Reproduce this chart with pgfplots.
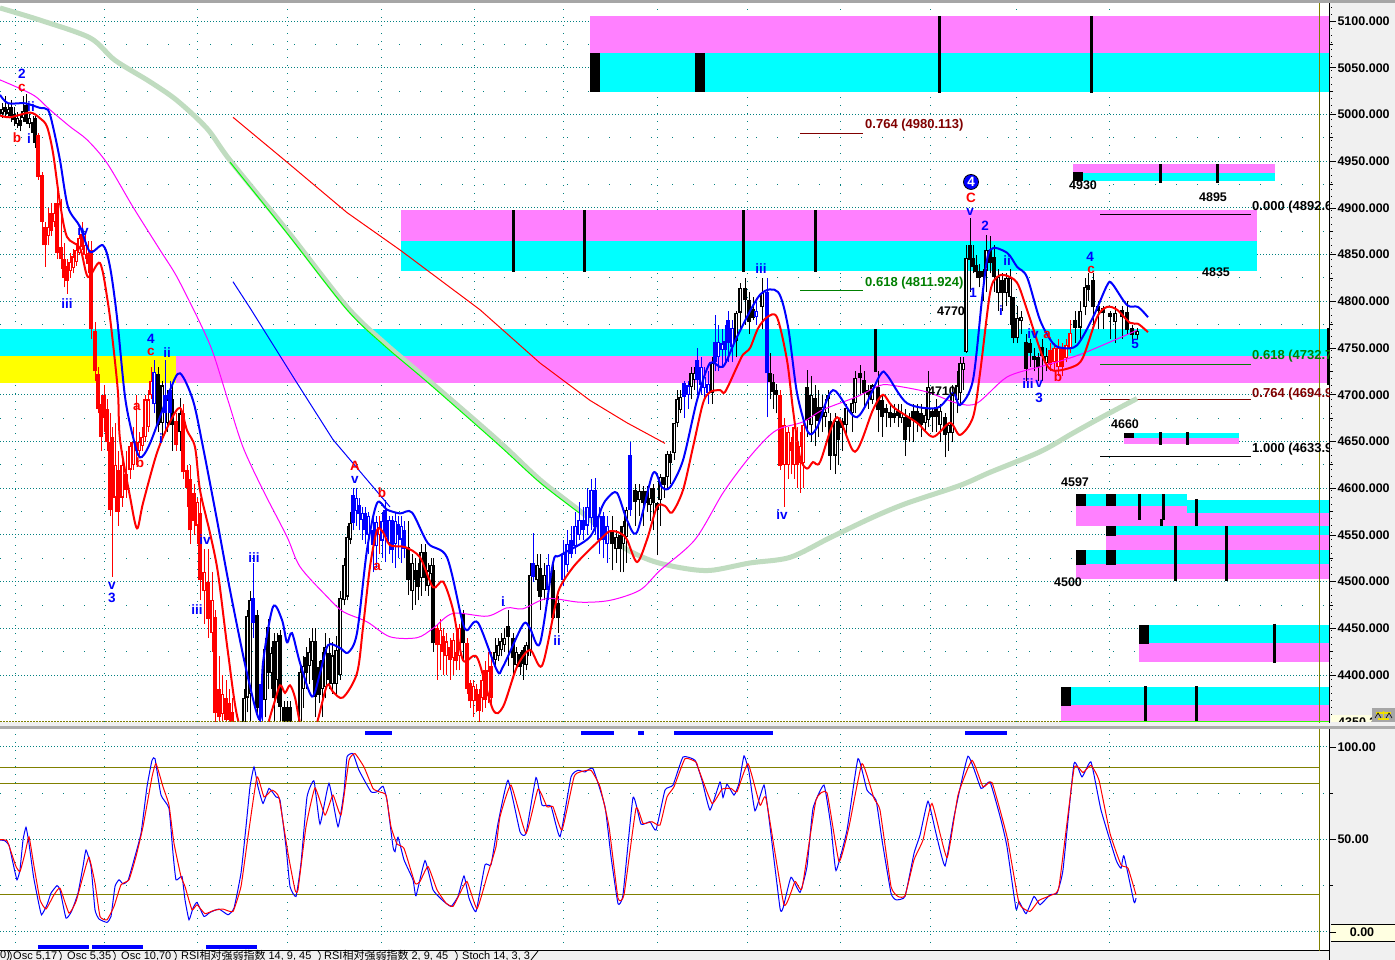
\documentclass[border=0pt]{standalone}
\usepackage{pgfplots}
\usepackage{pgfplotstable}
\usepackage{fontspec}
\pgfplotsset{compat=1.18}
\setmainfont{Liberation Sans}
\newfontfamily\cjk{Noto Sans CJK SC}

\definecolor{bcyan}{HTML}{00FFFF}
\definecolor{bpink}{HTML}{FF80FF}
\definecolor{byell}{HTML}{FFFF00}
\definecolor{tealg}{HTML}{008080}
\definecolor{pale}{HTML}{C0DCC0}
\definecolor{fibr}{HTML}{800000}
\definecolor{fibg}{HTML}{008000}
\definecolor{olivel}{HTML}{808000}
\definecolor{panel}{HTML}{F0F0F0}
\definecolor{boxy}{HTML}{FFFFE1}
\definecolor{mag}{HTML}{FF00FF}
\definecolor{icony}{HTML}{F0E000}

% candles: x low high body-bottom body-top hollow
\pgfplotstableread{
x lo hi bot top f
2 4996 5012 5001 5006 1
5 4998 5020 5003 5008 0
8 4997 5012 5001 5006 1
11 4992 5016 4998 5008 0
14 4988 5008 4994 5000 0
17 4986 5003 4990 4996 1
20 4982 4999 4988 4994 0
23 4992 5020 4996 5004 1
26 4990 5022 4992 5010 0
29 4985 5000 4990 4996 1
33 4975 4998 4980 4992 0
35 4964 4998 4970 4996 0
158 4660 4730 4668 4722 0
162 4655 4715 4670 4710 1
167 4660 4705 4670 4695 1
172 4640 4710 4668 4695 0
180 4640 4697 4660 4680 1
244 4345 4385 4345 4376 1
247 4360 4470 4376 4463 1
250 4345 4490 4380 4480 1
257 4355 4470 4365 4464 0
265 4355 4440 4373 4428 1
268 4385 4460 4402 4451 0
271 4385 4430 4402 4424 1
274 4350 4445 4375 4437 0
277 4370 4445 4395 4437 1
280 4350 4448 4366 4443 0
284 4340 4372 4350 4366 0
287 4340 4372 4350 4366 0
290 4340 4372 4350 4366 0
300 4340 4410 4346 4403 1
303 4365 4420 4385 4410 1
306 4385 4430 4402 4419 0
309 4390 4440 4410 4425 1
312 4395 4450 4415 4437 1
315 4355 4450 4377 4437 0
319 4370 4415 4379 4409 0
322 4355 4425 4385 4416 1
325 4375 4445 4387 4430 1
329 4385 4440 4395 4424 0
332 4380 4435 4390 4421 1
336 4380 4442 4390 4427 1
340 4395 4490 4400 4483 1
344 4475 4525 4480 4518 1
347 4480 4560 4484 4548 1
350 4540 4575 4545 4563 1
408 4486 4565 4502 4537 0
412 4470 4530 4490 4520 1
415 4475 4525 4502 4512 0
418 4480 4520 4494 4512 0
421 4485 4540 4504 4532 1
425 4490 4540 4504 4532 0
428 4485 4520 4495 4512 1
431 4500 4525 4508 4518 1
433 4425 4525 4434 4518 0
463 4415 4470 4434 4466 0
495 4410 4440 4416 4425 1
498 4415 4440 4420 4432 1
501 4420 4445 4427 4437 1
504 4425 4450 4432 4440 1
508 4410 4470 4441 4453 0
513 4400 4445 4418 4440 0
516 4405 4430 4411 4425 1
520 4400 4425 4409 4423 0
523 4395 4430 4412 4427 0
526 4405 4435 4411 4432 1
528 4420 4435 4427 4432 0
530 4420 4520 4427 4507 1
537 4490 4530 4502 4518 1
540 4470 4530 4484 4515 0
544 4480 4520 4491 4507 1
553 4460 4525 4461 4512 0
558 4445 4485 4461 4477 0
612 4512 4570 4540 4555 0
616 4520 4555 4535 4548 1
620 4510 4560 4535 4550 0
623 4510 4565 4540 4560 1
626 4520 4580 4548 4577 1
635 4560 4605 4585 4598 0
639 4570 4605 4587 4597 1
643 4560 4602 4584 4597 0
647 4575 4602 4584 4597 0
650 4565 4600 4582 4590 1
653 4555 4605 4584 4600 0
657 4528 4585 4577 4584 0
660 4560 4615 4587 4612 1
664 4590 4612 4603 4612 0
667 4600 4640 4612 4637 1
670 4605 4640 4627 4637 0
674 4630 4670 4638 4670 1
677 4665 4705 4670 4696 1
680 4680 4705 4684 4698 1
691 4695 4730 4708 4723 1
694 4705 4730 4716 4723 1
712 4690 4740 4702 4734 1
736 4740 4790 4758 4788 1
740 4770 4820 4788 4814 1
745 4775 4825 4801 4814 0
749 4765 4810 4778 4801 0
753 4780 4805 4782 4792 0
762 4770 4825 4794 4809 1
770 4695 4745 4714 4723 0
773 4685 4722 4703 4714 0
776 4680 4712 4700 4705 0
807 4655 4727 4673 4708 0
811 4650 4720 4668 4700 1
815 4645 4710 4677 4697 0
818 4655 4705 4672 4687 0
822 4660 4700 4677 4687 1
825 4665 4695 4676 4682 1
828 4680 4705 4695 4700 1
830 4620 4680 4635 4672 0
835 4615 4680 4635 4672 1
838 4625 4675 4652 4672 0
842 4640 4675 4664 4672 0
846 4655 4690 4668 4686 1
852 4660 4695 4680 4691 1
855 4680 4725 4691 4718 1
860 4700 4732 4718 4723 0
864 4685 4725 4702 4716 0
868 4685 4710 4700 4705 0
872 4690 4712 4694 4710 1
878 4660 4725 4684 4708 0
882 4655 4700 4676 4694 0
886 4665 4690 4680 4686 0
890 4665 4690 4675 4682 0
894 4670 4690 4675 4681 0
898 4665 4690 4677 4683 0
901 4670 4690 4675 4681 1
905 4635 4685 4652 4676 0
909 4650 4680 4665 4676 0
913 4650 4690 4673 4683 0
917 4660 4690 4670 4683 0
921 4655 4690 4668 4680 0
925 4660 4685 4670 4678 1
928 4665 4725 4673 4708 1
932 4660 4685 4676 4683 0
936 4660 4695 4676 4687 0
940 4650 4690 4668 4683 1
945 4633 4680 4657 4676 0
948 4640 4670 4659 4668 1
952 4650 4710 4659 4700 1
957 4680 4725 4694 4710 1
960 4690 4740 4702 4734 1
963 4705 4740 4726 4734 1
966 4745 4860 4746 4846 1
970 4810 4889 4844 4860 0
973 4830 4860 4837 4846 0
976 4825 4850 4831 4839 0
979 4815 4840 4825 4832 0
983 4800 4835 4826 4832 0
986 4810 4871 4833 4855 1
990 4830 4870 4841 4855 0
994 4810 4860 4826 4847 0
998 4790 4835 4809 4826 1
1002 4790 4830 4809 4823 0
1006 4795 4830 4809 4825 1
1010 4775 4835 4805 4825 1
1013 4755 4805 4761 4805 0
1017 4755 4795 4761 4782 1
1021 4765 4790 4779 4783 1
1026 4715 4765 4728 4756 0
1030 4730 4760 4745 4755 0
1034 4725 4750 4737 4742 0
1038 4715 4745 4730 4740 0
1042 4715 4760 4742 4751 0
1046 4725 4750 4734 4742 1
1075 4755 4790 4771 4780 0
1080 4760 4800 4772 4790 1
1085 4785 4825 4794 4815 1
1088 4800 4830 4812 4817 0
1093 4770 4830 4794 4823 0
1098 4770 4800 4790 4795 0
1103 4770 4795 4787 4793 0
1110 4760 4790 4783 4788 0
1115 4755 4795 4778 4788 1
1122 4760 4795 4783 4791 0
1127 4765 4800 4769 4789 0
1132 4755 4775 4764 4772 0
1137 4760 4772 4764 4768 1
}\tblack

\pgfplotstableread{
x lo hi bot top f
38 4930 4980 4933 4978 0
42 4860 4938 4885 4935 0
45 4837 4885 4860 4880 0
48 4860 4900 4870 4880 1
51 4870 4905 4875 4895 0
54 4880 4905 4885 4895 1
57 4845 4925 4852 4905 0
61 4835 4910 4845 4858 0
64 4815 4862 4825 4845 0
67 4808 4845 4822 4838 0
70 4825 4852 4832 4842 1
73 4830 4856 4836 4848 1
76 4838 4862 4842 4855 1
79 4850 4880 4852 4868 1
82 4855 4885 4858 4872 0
85 4845 4875 4850 4860 1
88 4830 4865 4840 4852 0
91 4760 4865 4770 4855 0
95 4715 4778 4725 4768 0
98 4680 4730 4685 4722 0
101 4640 4700 4655 4690 0
104 4660 4710 4675 4700 0
107 4640 4695 4650 4685 0
110 4570 4680 4577 4650 0
112 4505 4665 4590 4655 0
115 4575 4670 4590 4625 1
118 4560 4640 4575 4620 0
122 4580 4640 4590 4625 1
126 4590 4640 4598 4615 0
130 4610 4650 4620 4645 1
133 4620 4665 4625 4650 1
136 4625 4700 4640 4650 0
139 4635 4660 4640 4650 1
142 4640 4665 4645 4655 1
145 4650 4700 4655 4695 1
148 4660 4705 4665 4695 1
151 4695 4730 4700 4715 1
176 4640 4680 4646 4672 0
183 4610 4690 4617 4680 0
187 4580 4625 4600 4620 0
190 4540 4625 4555 4610 0
194 4550 4605 4565 4595 0
197 4540 4590 4560 4585 1
200 4480 4590 4502 4574 0
204 4455 4535 4490 4510 1
208 4440 4535 4460 4500 0
212 4425 4510 4445 4480 1
215 4350 4470 4359 4462 0
219 4350 4420 4355 4385 0
222 4350 4400 4358 4380 1
226 4350 4395 4352 4375 0
229 4350 4385 4352 4370 0
232 4350 4375 4350 4360 0
379 4530 4570 4550 4558 1
437 4395 4455 4432 4450 0
440 4405 4460 4432 4448 1
443 4400 4450 4425 4442 0
446 4400 4445 4420 4436 1
450 4395 4440 4416 4430 0
453 4400 4445 4418 4438 1
456 4405 4445 4415 4425 0
459 4405 4455 4420 4450 1
467 4380 4440 4385 4434 0
470 4365 4395 4372 4392 0
473 4355 4395 4372 4388 1
476 4360 4390 4372 4385 0
479 4349 4385 4362 4380 0
482 4360 4400 4375 4395 1
485 4365 4415 4373 4405 0
488 4370 4425 4378 4405 1
491 4365 4425 4375 4410 0
780 4620 4705 4624 4700 0
784 4580 4675 4625 4668 1
788 4610 4665 4625 4660 1
791 4615 4655 4640 4650 0
794 4610 4668 4625 4665 1
797 4600 4665 4625 4650 0
800 4595 4660 4627 4645 1
803 4600 4670 4627 4668 1
1050 4725 4755 4732 4748 0
1054 4725 4755 4735 4750 1
1058 4720 4760 4730 4750 1
1062 4720 4755 4730 4750 0
1066 4735 4760 4739 4753 1
1070 4745 4780 4750 4766 1
}\tred

\pgfplotstableread{
x lo hi bot top f
154 4680 4737 4690 4724 1
165 4660 4737 4680 4700 0
170 4670 4715 4680 4705 0
253 4440 4520 4456 4482 0
261 4345 4400 4350 4390 1
353 4555 4600 4563 4593 0
356 4560 4600 4576 4590 1
359 4555 4590 4572 4582 0
362 4545 4580 4566 4574 1
365 4540 4580 4555 4574 0
368 4530 4575 4550 4570 1
373 4510 4570 4539 4555 0
376 4515 4570 4538 4564 1
382 4525 4575 4544 4565 1
385 4521 4587 4548 4577 0
389 4530 4570 4541 4566 1
392 4520 4570 4534 4566 0
395 4515 4575 4540 4565 1
398 4525 4570 4550 4562 0
401 4520 4570 4545 4560 1
404 4525 4565 4535 4555 0
533 4500 4552 4505 4520 0
548 4480 4530 4491 4518 1
563 4495 4545 4502 4530 1
567 4510 4555 4518 4540 1
571 4525 4560 4530 4545 0
575 4530 4575 4538 4560 1
579 4545 4585 4550 4566 1
583 4545 4580 4555 4566 0
587 4550 4600 4560 4580 1
591 4555 4610 4568 4598 1
595 4550 4611 4558 4598 0
599 4530 4580 4545 4570 1
603 4525 4575 4545 4570 0
607 4520 4570 4540 4560 1
630 4570 4649 4577 4636 0
684 4675 4715 4698 4713 0
688 4685 4715 4700 4710 1
697 4700 4750 4716 4737 0
701 4700 4740 4710 4730 1
704 4695 4730 4707 4719 1
708 4690 4725 4702 4712 1
715 4725 4785 4735 4756 0
718 4725 4775 4740 4757 1
722 4730 4770 4748 4755 1
725 4735 4775 4748 4758 0
728 4735 4790 4755 4780 0
732 4735 4780 4751 4772 1
756 4775 4800 4783 4790 1
767 4676 4825 4723 4810 0
}\tblue

% one colour of candles: wicks, bodies, then the white inside of hollow ones
\newcommand{\candles}[2]{%
  \pgfplotstablegetrowsof{#1}\pgfmathtruncatemacro\nrows{\pgfplotsretval-1}%
  \gdef\wk{}\gdef\bd{}\gdef\wh{}%
  \pgfplotsforeachungrouped \i in {0,...,\nrows}{%
    \pgfplotstablegetelem{\i}{x}\of#1\let\cx\pgfplotsretval
    \pgfplotstablegetelem{\i}{lo}\of#1\let\clo\pgfplotsretval
    \pgfplotstablegetelem{\i}{hi}\of#1\let\chi\pgfplotsretval
    \pgfplotstablegetelem{\i}{bot}\of#1\let\cb\pgfplotsretval
    \pgfplotstablegetelem{\i}{top}\of#1\let\ct\pgfplotsretval
    \pgfplotstablegetelem{\i}{f}\of#1\let\cf\pgfplotsretval
    \xdef\wk{\wk(\cx,\clo)(\cx,\chi)(nan,nan)}%
    \xdef\bd{\bd(\cx,\cb)(\cx,\ct)(nan,nan)}%
    \ifnum\cf=1
      \pgfmathsetmacro\wb{\cb+1.2}\pgfmathsetmacro\wt{\ct-1.2}%
      \xdef\wh{\wh(\cx,\wb)(\cx,\wt)(nan,nan)}%
    \fi
  }%
  \edef\tmp{\noexpand\addplot[forget plot,draw=#2,line width=1pt,unbounded coords=jump] coordinates {\wk};}\tmp
  \edef\tmp{\noexpand\addplot[forget plot,draw=#2,line width=3.1pt,unbounded coords=jump] coordinates {\bd};}\tmp
  \edef\tmp{\noexpand\addplot[forget plot,draw=white,line width=1pt,unbounded coords=jump] coordinates {\wh};}\tmp
}
% band: x1 x2 top mid bottom, upper and lower colour
\newcommand{\band}[7]{%
  \addplot[forget plot,fill=#6,draw=none] coordinates {(#1,#3)(#2,#3)(#2,#4)(#1,#4)} --cycle;
  \addplot[forget plot,fill=#7,draw=none] coordinates {(#1,#4)(#2,#4)(#2,#5)(#1,#5)} --cycle;
}
\newcommand{\block}[4]{\addplot[forget plot,fill=black,draw=none] coordinates {(#1,#3)(#2,#3)(#2,#4)(#1,#4)} --cycle;}
\newcommand{\vbar}[3]{\addplot[forget plot,black,line width=3pt] coordinates {(#1,#2)(#1,#3)};}
\newcommand{\fib}[4]{\addplot[forget plot,#4,line width=1pt] coordinates {(#1,#3)(#2,#3)};}

\pgfplotsset{chartpanel/.style={
  scale only axis,width=1330pt,xmin=0,xmax=1330,
  anchor=south west,axis line style={draw=none},
  xtick={15,104,197,287,381,474,563,657,747,840,930,1016,1109},
  xticklabels={},x tick style={draw=none},xtick pos=bottom,
  xmajorgrids,ymajorgrids,yminorgrids,
  major x grid style={tealg,line width=1pt,dash pattern=on 1pt off 7pt},
  major y grid style={tealg,line width=1pt,dash pattern=on 1pt off 2pt},
  minor y grid style={tealg,line width=1pt,dash pattern=on 1pt off 20pt},
  ytick pos=right,yticklabel pos=right,tick align=outside,
  major tick length=6pt,minor tick length=3pt,y tick style={black,line width=0.8pt},
  y tick label style={font=\bfseries\fontsize{12.5}{14}\selectfont,anchor=west,xshift=-2pt},
  /pgf/number format/assume math mode=true,
  /pgf/number format/fixed,/pgf/number format/fixed zerofill,/pgf/number format/1000 sep={},
  clip=true,
}}

\newcommand{\wavefont}{\bfseries\fontsize{13.5}{15}\selectfont}
\newcommand{\lblfont}{\bfseries\fontsize{12.5}{14}\selectfont}
\newcommand{\fibfont}{\bfseries\fontsize{13}{15}\selectfont}
\newcommand{\lab}[4]{\node[text=#3,font=\wavefont,inner sep=0pt] at (#1pt,{960pt-#2pt}) {#4};}
\newcommand{\labn}[3]{\node[font=\lblfont,inner sep=0pt] at (#1pt,{960pt-#2pt}) {#3};}
\newcommand{\labw}[4]{\node[text=#3,font=\fibfont,inner sep=0pt,anchor=west] at (#1pt,{960pt-#2pt}) {#4};}
\newcommand{\tabt}[2]{\node[font=\fontsize{11}{13}\selectfont,inner sep=0pt,anchor=west] at (#1pt,4pt) {#2};}

\begin{document}
\begin{tikzpicture}[x=1pt,y=1pt]
\useasboundingbox (0,0) rectangle (1395pt,960pt);
\fill[panel] (0,0) rectangle (1395pt,960pt);
\fill[white] (0,238pt) rectangle (1330pt,960pt);
\fill[white] (0,9pt) rectangle (1330pt,232pt);
\fill[boxy] (1331pt,19pt) rectangle (1395pt,36pt);
\draw[black,line width=0.8pt] (1331pt,19pt) -- (1395pt,19pt) (1331pt,36pt) -- (1395pt,36pt);

\begin{axis}[chartpanel,at={(0pt,238pt)},height=720pt,ymin=4349.8,ymax=5120.4,
  ytick={4400,4450,...,5100},minor y tick num=1,
  /pgf/number format/precision=3]
% order blocks
\band{590}{1330}{5105.4}{5065.8}{5024}{bpink}{bcyan}
\block{590}{600}{5065.8}{5024}
\block{695}{705}{5065.8}{5024}
\vbar{939}{5105.4}{5023}
\vbar{1091}{5105.4}{5023}
\band{401}{1257}{4897.7}{4864.6}{4832.5}{bpink}{bcyan}
\vbar{513}{4897.7}{4831}
\vbar{584}{4897.7}{4831}
\vbar{743}{4897.7}{4831}
\vbar{815}{4897.7}{4831}
\band{0}{1330}{4770}{4741.5}{4712.6}{bcyan}{bpink}
\addplot[forget plot,fill=byell,draw=none] coordinates {(0,4741.5)(176,4741.5)(176,4712.6)(0,4712.6)} --cycle;
\vbar{875}{4770}{4724}
\vbar{1328}{4772}{4711}
\band{1073}{1275}{4947}{4937.3}{4928.8}{bpink}{bcyan}
\block{1073}{1083}{4938}{4928.8}
\vbar{1160}{4947}{4927}
\vbar{1217}{4947}{4927}
\band{1124}{1239}{4659}{4653.7}{4647.3}{bcyan}{bpink}
\block{1124}{1134}{4659}{4653.7}
\vbar{1160}{4660}{4646}
\vbar{1187}{4660}{4646}
\band{1185}{1330}{4587.4}{4573.4}{4559.5}{bcyan}{bpink}
\band{1076}{1187}{4593.8}{4581}{4559.5}{bcyan}{bpink}
\block{1076}{1086}{4593.8}{4581}
\block{1106}{1116}{4593.8}{4581}
\vbar{1139}{4594}{4566}
\vbar{1163}{4594}{4566}
\vbar{1161}{4567}{4558}
\vbar{1196}{4588}{4558}
\band{1106}{1330}{4559.5}{4549.9}{4533.8}{bcyan}{bpink}
\band{1076}{1330}{4533.8}{4518.8}{4502.8}{bcyan}{bpink}
\block{1106}{1116}{4559.5}{4549}
\block{1076}{1086}{4533.8}{4518}
\block{1106}{1116}{4533.8}{4518}
\vbar{1175}{4559.5}{4501}
\vbar{1226}{4559.5}{4501}
\band{1139}{1330}{4453.6}{4434.3}{4414}{bcyan}{bpink}
\block{1139}{1149}{4453.6}{4433}
\vbar{1274}{4455}{4413}
\band{1061}{1330}{4387.2}{4368}{4349.8}{bcyan}{bpink}
\block{1061}{1071}{4387.2}{4367}
\vbar{1145}{4388}{4349.8}
\vbar{1196}{4388}{4349.8}
% fibonacci levels
\fib{800}{863}{4980.113}{fibr}
\fib{800}{863}{4811.924}{fibg}
\fib{1100}{1251}{4892.6}{black}
\fib{1100}{1251}{4732.7}{fibg}
\fib{1100}{1251}{4694.9}{fibr}
\fib{1100}{1251}{4633.9}{black}
% slow average
\addplot[forget plot,pale,line width=5pt,smooth,tension=0.5] coordinates {
(0,5114)(40,5101)(90,5082)(115,5058)(150,5035)(177,5015)(207,4985)(230,4951)(287,4876)(347,4794)(385,4755)(428,4716)
(497,4652)(540,4609)(583,4573)(620,4539)(650,4523)(680,4515)(710,4512)(750,4520)(790,4526)(830,4547)(873,4569)
(907,4584)(960,4603)(990,4617)(1040,4639)(1073,4659)(1100,4675)(1137,4696)};
\addplot[forget plot,green,line width=1pt,smooth,tension=0.5] coordinates {
(230,4949)(287,4873)(347,4791)(385,4752)(428,4713)(497,4648)(540,4606)(580,4573)};
\candles{\tblack}{black}
\candles{\tred}{red}
\candles{\tblue}{blue}
% long average
\addplot[forget plot,mag,line width=1pt,smooth,tension=0.5] coordinates {
(0,5037)(33,5021)(50,5005)(70,4987)(87,4973)(107,4948)(133,4901)(160,4855)(177,4826)(200,4777)(213,4745)(228,4694)
(243,4644)(263,4598)(287,4548)(300,4516)(327,4484)(343,4468)(367,4457)(390,4441)(417,4440)(433,4450)(453,4466)
(487,4463)(507,4472)(523,4471)(547,4482)(580,4478)(610,4480)(640,4491)(660,4512)(695,4545)(723,4595)(747,4630)
(767,4654)(780,4664)(803,4671)(823,4684)(857,4698)(880,4710)(893,4710)(927,4703)(957,4691)(977,4691)(1007,4719)
(1040,4730)(1063,4737)(1087,4746)(1137,4769)};
% trend lines
\addplot[forget plot,red,line width=1pt] coordinates {
(233,4997)(287,4949)(347,4895)(400,4855)(480,4791)(540,4734)(590,4694)(627,4670)(665,4648)};
\addplot[forget plot,blue,line width=1pt] coordinates {
(233,4821)(250,4793)(295,4716)(333,4652)(390,4580)};
% bands of the price
\addplot[forget plot,blue,line width=2pt,smooth,tension=0.5] coordinates {
(0,5021)(8,5012)(25,5012)(40,5007)(48,5005)(53,4987)(60,4951)(68,4901)(80,4880)(90,4853)(103,4860)(110,4837)(117,4783)
(125,4698)(133,4655)(140,4633)(150,4648)(170,4705)(180,4723)(193,4694)(203,4644)(217,4566)(230,4491)(247,4402)(260,4352)
(263,4413)(273,4473)(282,4459)(287,4435)(292,4445)(300,4413)(312,4377)(320,4402)(328,4432)(340,4429)(348,4424)(357,4445)
(367,4534)(377,4584)(387,4577)(400,4573)(412,4574)(428,4541)(447,4526)(462,4459)(467,4448)(478,4456)(497,4405)(503,4409)
(523,4454)(530,4450)(540,4434)(553,4520)(560,4528)(590,4548)(602,4580)(608,4590)(617,4595)(627,4566)(637,4553)(653,4616)
(662,4601)(670,4601)(683,4630)(697,4694)(710,4734)(723,4730)(737,4762)(760,4807)(778,4810)(788,4773)(797,4702)(808,4660)
(817,4665)(833,4705)(857,4676)(880,4721)(887,4721)(907,4691)(937,4686)(953,4702)(960,4689)(973,4716)(983,4812)(990,4855)
(1007,4852)(1017,4837)(1027,4826)(1040,4780)(1053,4755)(1063,4750)(1077,4753)(1093,4783)(1107,4817)(1112,4819)(1127,4796)
(1138,4794)(1148,4783)};
\addplot[forget plot,red,line width=2pt,smooth,tension=0.5] coordinates {
(0,4999)(10,4997)(30,5002)(40,4996)(47,4987)(53,4959)(60,4905)(67,4869)(80,4857)(88,4826)(100,4841)(108,4798)(113,4755)
(118,4702)(120,4652)(130,4591)(137,4557)(143,4584)(157,4638)(170,4671)(180,4686)(187,4662)(195,4644)(200,4598)(210,4552)
(218,4509)(228,4424)(238,4352)(255,4309)(273,4366)(280,4389)(285,4381)(290,4389)(295,4376)(300,4349)(308,4325)(317,4349)
(327,4389)(333,4382)(343,4376)(357,4402)(363,4451)(370,4516)(377,4555)(383,4553)(390,4539)(405,4537)(420,4526)(433,4494)
(443,4500)(453,4470)(463,4416)(477,4419)(493,4363)(503,4366)(517,4409)(530,4427)(542,4410)(555,4473)(560,4494)(575,4518)
(600,4545)(610,4554)(620,4552)(627,4545)(637,4521)(647,4545)(657,4580)(665,4581)(672,4574)(683,4598)(693,4644)(703,4691)
(710,4703)(720,4705)(725,4703)(737,4730)(743,4743)(750,4750)(758,4771)(767,4783)(777,4783)(787,4737)(793,4684)(800,4633)
(807,4621)(813,4628)(820,4628)(837,4676)(855,4639)(873,4684)(883,4700)(893,4687)(917,4670)(933,4655)(950,4670)(960,4657)
(973,4676)(980,4723)(990,4809)(997,4826)(1005,4828)(1017,4820)(1027,4791)(1043,4740)(1053,4726)(1073,4730)(1083,4740)
(1097,4783)(1107,4794)(1117,4791)(1130,4777)(1138,4776)(1148,4767)};
\end{axis}

\begin{axis}[chartpanel,at={(0pt,9pt)},height=223pt,ymin=-10.27,ymax=110.27,
  ytick={0,50,100},yticklabels={,50.00,100.00},minor ytick={25,75}]
\addplot[forget plot,olivel,line width=1pt] coordinates {(0,89)(1319,89)};
\addplot[forget plot,olivel,line width=1pt] coordinates {(0,80)(1319,80)};
\addplot[forget plot,olivel,line width=1pt] coordinates {(0,20)(1319,20)};
\addplot[forget plot,fill=blue,draw=none] coordinates {(365,108.5)(392,108.5)(392,106.5)(365,106.5)} --cycle;
\addplot[forget plot,fill=blue,draw=none] coordinates {(581,108.5)(614,108.5)(614,106.5)(581,106.5)} --cycle;
\addplot[forget plot,fill=blue,draw=none] coordinates {(638,108.5)(644,108.5)(644,106.5)(638,106.5)} --cycle;
\addplot[forget plot,fill=blue,draw=none] coordinates {(674,108.5)(773,108.5)(773,106.5)(674,106.5)} --cycle;
\addplot[forget plot,fill=blue,draw=none] coordinates {(965,108.5)(1007,108.5)(1007,106.5)(965,106.5)} --cycle;
\addplot[forget plot,fill=blue,draw=none] coordinates {(38,-7)(89,-7)(89,-9.2)(38,-9.2)} --cycle;
\addplot[forget plot,fill=blue,draw=none] coordinates {(92,-7)(143,-7)(143,-9.2)(92,-9.2)} --cycle;
\addplot[forget plot,fill=blue,draw=none] coordinates {(206,-7)(257,-7)(257,-9.2)(206,-9.2)} --cycle;
% stochastic %K
\addplot[forget plot,blue,line width=1pt,smooth,tension=0.25] coordinates {
(0,49.7)(4.5,49.4)(9,47)(13,37.2)(17,28.2)(20,33.6)(23,49.7)(26,56.6)(29,47.9)(33.5,30)(38,17.4)(41.5,9.3)(47,14.7)(51,21)
(57,25.1)(60,22.8)(66,7.5)(71.5,11.1)(78,21)(83,35.4)(86,44.3)(91,35.4)(95,12)(99,7)(107,5.2)(111,8.4)(115,24.6)(119,28.2)
(123,26)(128,27.8)(134,39)(141,53.3)(147,78.5)(152,92.8)(155,93.7)(161,74)(169,66.8)(173,42.5)(176,28.2)(182,30)(185,17.4)
(189,6.6)(193,12.9)(197,16)(204,8.4)(210,10.6)(219,12.4)(228,9.3)(234,12.9)(241,31.8)(246,56.9)(250,78.5)(254,89.2)(258,78.5)
(263,69.5)(269,77.6)(276,73)(280,71.3)(286,46.1)(290,24.6)(296,19.2)(301,37.2)(307,73)(314,81.7)(320,58.3)(329,80.3)(338,56.9)
(344,75.8)(347,94.6)(353,96.4)(359,87.4)(371,75.8)(377,75.8)(383,78.8)(387,71.3)(393,46.1)(395,43.4)(398,51.2)(404,39)(413,28.2)
(416,19.6)(425,38.6)(433,22.8)(442,17.4)(451,13.8)(458,19.2)(464,30.3)(469,18.3)(476,11.1)(485,36.3)(491,36.3)(498,58.7)(508,82)
(520,54.2)(526,53.3)(536,83.5)(542,68.6)(551,68)(560,51.5)(571,83.8)(578,87.4)(585,86.5)(593,88.3)(605,67.7)(611,40.8)(618,15.3)
(623,20.1)(633,72.7)(641,58.3)(650,59.6)(656,55.1)(665,76.7)(673,79.4)(683,94.6)(695,92.8)(702,82)(710,65.9)(720,81.1)(723,72.7)
(727,79.9)(734,74)(739,80.3)(744,95.2)(749,86.5)(755,65.5)(764,79.4)(769,61.4)(780,12.9)(783,12.9)(791,29.6)(800,21.4)(807,35.4)
(813,66.8)(824,79.4)(831,56.9)(836,33.2)(847,55.1)(858,93.7)(867,76.7)(876,71.3)(882,49.7)(891,21)(896,17.4)(905,19.2)(914,42.5)
(920,52.4)(928,70.7)(936,53.3)(945,35.7)(954,62.3)(968,95)(981,77.6)(990,81.1)(1001,60.5)(1007,46.1)(1016,12.4)(1019,16.5)
(1026,9.9)(1034,19.2)(1040,14.7)(1050,20.1)(1057,21)(1063,33.6)(1074,91)(1082,83.8)(1091,91.9)(1101,65.9)(1116,39)(1121,34.5)
(1124,41.1)(1134,16.2)(1136,18.3)};
% stochastic %D
\addplot[forget plot,red,line width=1pt,smooth,tension=0.25] coordinates {
(0,50)(7,49.4)(11,43.4)(16,35.4)(20,32.7)(25,42.5)(29,51.5)(33.5,37.2)(40,17.4)(46,12.4)(54,20.1)(60,23.7)(69,10.2)(76,16.5)(83,30)
(89,40.4)(95,26.4)(100,8.4)(107,6.6)(114,13.8)(121,25.5)(129,28.2)(136,40.8)(143,56.9)(152,83.8)(156,91)(163,78.5)(169,68.6)(174,47.9)
(181,30)(185,24.6)(192,12)(197,14.7)(205,9.9)(214,11.7)(223,12.4)(233,11.1)(241,24.6)(248,51.5)(257,83.8)(264,73)(272,76.7)(279,72.7)
(288,42.5)(295,22.8)(298,22.8)(306,56.9)(315,77.9)(325,63.2)(333,74)(341,63.2)(349,92.8)(355,96.4)(364,89.2)(373,77.6)(379,75.8)(386,74)
(391,56.9)(397,47.6)(404,45.2)(415,26.4)(420,27.3)(428,35.4)(437,22.8)(446,15.6)(453,13.8)(460,21)(467,27.3)(477,12.6)(487,30)(496,46.1)
(500,62.3)(511,79.4)(526,53.3)(538,77.2)(547,67.7)(553,67.7)(562,55.1)(574,83.8)(580,86.5)(591,87.4)(600,78.5)(609,56.9)(618,18.3)
(624,20.1)(636,66.8)(643,58.7)(652,59.6)(660,57.8)(667,73)(674,78.5)(685,93.7)(696,91.9)(699,87.4)(712,69.5)(722,77.2)(731,77.6)(737,75.8)
(748,91)(760,68.6)(766,72.2)(784,14.7)(795,27.3)(802,23.7)(816,71.3)(827,75.2)(839,38.1)(849,56.9)(862,91)(874,72.2)(880,65.9)(891,24.6)
(898,19.2)(905,19.6)(914,39)(923,49.7)(932,69.5)(947,40.2)(958,74)(972,92.8)(983,78.5)(992,80.8)(1007,51.5)(1019,15.6)(1030,11.1)(1039,17.1)
(1052,20.1)(1059,24.6)(1074,88.3)(1083,86.2)(1091,90.1)(1099,82)(1110,53.3)(1121,36.3)(1128,34.5)(1136,20.1)};
\end{axis}

% frame, separators
\draw[black,line width=1pt] (1329.5pt,0pt) -- (1329.5pt,957pt);
\draw[black,line width=1pt] (0,9pt) -- (1329.5pt,9pt);
\draw[olivel,line width=1pt] (1319.3pt,9pt) -- (1319.3pt,957pt);
\fill[gray!70] (0,957pt) rectangle (1395pt,960pt);
\draw[black,dash pattern=on 1pt off 6pt,line width=1pt] (1331.5pt,238pt) -- (1331.5pt,957pt);
\draw[olivel,dash pattern=on 2pt off 1pt,line width=1pt] (0,238pt) -- (1061pt,238pt);
\draw[green!80!yellow,line width=1pt] (1061pt,238pt) -- (1329pt,238pt);
\fill[panel] (0,234pt) rectangle (1395pt,237.4pt);
\fill[gray!65] (0,231pt) rectangle (1395pt,233.5pt);

% wave labels
\lab{22}{74}{blue}{2}\lab{22}{88}{red}{c}\lab{17}{138}{red}{b}\lab{29}{139}{blue}{i}\lab{31}{107}{blue}{ii}
\lab{83}{231}{blue}{iv}\lab{67}{304}{blue}{iii}\lab{151}{339}{blue}{4}\lab{151}{352}{red}{c}\lab{167}{353}{blue}{ii}
\lab{137}{407}{red}{a}\lab{140}{463}{red}{b}\lab{161}{439}{blue}{i}\lab{112}{586}{blue}{v}\lab{112}{598}{blue}{3}
\lab{205}{540}{blue}{iv}\lab{197}{610}{blue}{iii}\lab{254}{558}{blue}{iii}\lab{355}{466}{red}{A}\lab{355}{480}{blue}{v}
\lab{382}{493}{red}{b}\lab{377}{567}{red}{a}\lab{503}{602}{blue}{i}\lab{557}{641}{blue}{ii}\lab{761}{269}{blue}{iii}
\lab{782}{515}{blue}{iv}\lab{971}{198}{red}{C}\lab{970}{212}{blue}{v}\lab{985}{226}{blue}{2}\lab{973}{293}{blue}{1}
\lab{1007}{261}{blue}{ii}\lab{1001}{311}{blue}{i}\lab{1033}{334}{blue}{iv}\lab{1047}{335}{red}{a}\lab{1028}{384}{blue}{iii}
\lab{1039}{384}{blue}{v}\lab{1039}{398}{blue}{3}\lab{1058}{377}{red}{b}\lab{1090}{257}{blue}{4}\lab{1091}{270}{red}{c}
\lab{1135}{344}{blue}{5}
\node[circle,fill=blue,draw=black,line width=0.8pt,inner sep=0pt,minimum size=15pt,text=white,font=\wavefont] at (971pt,778pt) {4};
% price labels
\labn{951}{311}{4770}\labn{942}{391}{4710}\labn{1083}{185}{4930}\labn{1213}{197}{4895}
\labn{1216}{272}{4835}\labn{1125}{424}{4660}\labn{1075}{482}{4597}\labn{1068}{582}{4500}
\labw{865}{125}{fibr}{0.764 (4980.113)}
\labw{865}{283}{fibg}{0.618 (4811.924)}
\begin{scope}
\clip (1200pt,400pt) rectangle (1329pt,800pt);
\labw{1252}{207}{black}{0.000 (4892.6}
\labw{1252}{356}{fibg}{0.618 (4732.7}
\labw{1252}{394}{fibr}{0.764 (4694.9}
\labw{1252}{449}{black}{1.000 (4633.9}
\end{scope}

% right hand boxes
\node[font=\lblfont,inner sep=0pt] at (1362pt,28pt) {0.00};
\fill[boxy] (1331pt,238pt) rectangle (1372pt,245pt);
\begin{scope}
\clip (1331pt,238pt) rectangle (1372pt,245pt);
\node[font=\lblfont,inner sep=0pt,anchor=west] at (1338pt,238pt) {4350.3};
\end{scope}
\fill[gray!70] (1372pt,238pt) rectangle (1395pt,252pt);
\draw[icony,line width=1.2pt] (1376pt,247pt) -- (1391pt,247pt) (1383.5pt,241pt) -- (1383.5pt,249pt) (1378pt,241pt) -- (1389pt,241pt);
\draw[black,line width=0.6pt] (1375pt,242pt) -- (1378pt,247pt) -- (1381pt,242pt) (1386pt,242pt) -- (1389pt,247pt) -- (1392pt,242pt);

% tabs along the bottom
\tabt{0}{0)}
\tabt{13}{Osc 5,17}
\tabt{67}{Osc 5,35}
\tabt{121}{Osc 10,70}
\tabt{181}{RSI{\cjk 相对强弱指数} 14, 9, 45}
\tabt{324}{RSI{\cjk 相对强弱指数} 2, 9, 45}
\tabt{462}{Stoch 14, 3, 3}
\foreach \xa in {9,59,113,174,318,455}{\draw[black,line width=0.7pt] (\xa pt,9pt) .. controls ({\xa pt+3pt},6pt) and ({\xa pt+3pt},3pt) .. ({\xa pt+1pt},0pt);}
\draw[black,line width=0.8pt] (531pt,0pt) -- (538pt,9pt);
\end{tikzpicture}
\end{document}
